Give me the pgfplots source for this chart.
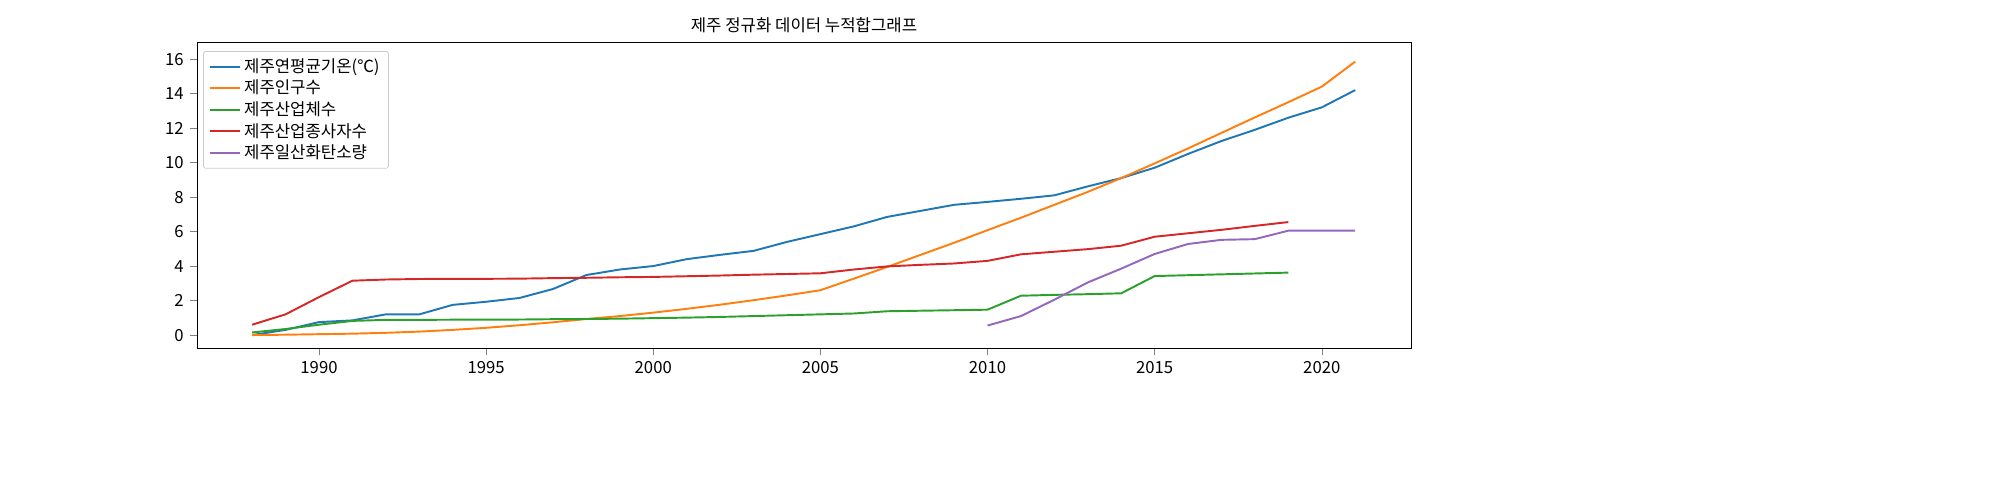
\documentclass[border=0pt]{standalone}
\usepackage{pgfplots}
\pgfplotsset{compat=1.18}
\usepackage{fontspec}
\setmainfont{Noto Sans CJK KR}
\begin{document}
\fontsize{9.5}{11}\selectfont
\begin{tikzpicture}
\begin{axis}[at={(3.94cm,3.04cm)},anchor=south west,scale only axis,
width=24.28cm,height=6.12cm,
xmin=1986.35,xmax=2022.67,ymin=-0.75,ymax=16.99,
xtick={1990,1995,...,2020},ytick={0,2,...,16},
/pgf/number format/assume math mode=true,
xticklabel style={/pgf/number format/1000 sep={}},
tick align=outside,tick pos=lower,
title={제주 정규화 데이터 누적합그래프},title style={yshift=-4pt},
legend style={at={(0.005,0.97)},anchor=north west,draw=black!20,rounded corners=1pt,font=\fontsize{9.5}{11}\selectfont,row sep=-1pt},
legend cell align=left,
every axis plot/.append style={line width=1.1pt}]
\addplot[color={rgb,255:red,31;green,119;blue,180}] coordinates {(1988,0)(1989,0.3)(1990,0.75)(1991,0.85)(1992,1.2)(1993,1.2)(1994,1.75)(1995,1.93)(1996,2.15)(1997,2.67)(1998,3.48)(1999,3.8)(2000,4.0)(2001,4.4)(2002,4.65)(2003,4.88)(2004,5.4)(2005,5.85)(2006,6.3)(2007,6.85)(2008,7.2)(2009,7.55)(2010,7.72)(2011,7.9)(2012,8.1)(2013,8.62)(2014,9.1)(2015,9.7)(2016,10.5)(2017,11.25)(2018,11.9)(2019,12.6)(2020,13.2)(2021,14.2)};
\addlegendentry{제주연평균기온(℃)}
\addplot[color={rgb,255:red,255;green,127;blue,14}] coordinates {(1988,0)(1989,0.02)(1990,0.05)(1991,0.08)(1992,0.13)(1993,0.2)(1994,0.3)(1995,0.42)(1996,0.57)(1997,0.74)(1998,0.93)(1999,1.1)(2000,1.3)(2001,1.52)(2002,1.76)(2003,2.02)(2004,2.3)(2005,2.6)(2006,3.27)(2007,3.95)(2008,4.65)(2009,5.35)(2010,6.08)(2011,6.8)(2012,7.55)(2013,8.3)(2014,9.1)(2015,9.95)(2016,10.82)(2017,11.72)(2018,12.62)(2019,13.5)(2020,14.4)(2021,15.85)};
\addlegendentry{제주인구수}
\addplot[color={rgb,255:red,44;green,160;blue,44}] coordinates {(1988,0.15)(1989,0.35)(1990,0.6)(1991,0.82)(1992,0.88)(1993,0.88)(1994,0.89)(1995,0.89)(1996,0.9)(1997,0.92)(1998,0.93)(1999,0.95)(2000,0.98)(2001,1.01)(2002,1.05)(2003,1.1)(2004,1.15)(2005,1.2)(2006,1.25)(2007,1.38)(2008,1.41)(2009,1.44)(2010,1.47)(2011,2.28)(2012,2.33)(2013,2.37)(2014,2.42)(2015,3.42)(2016,3.47)(2017,3.52)(2018,3.57)(2019,3.62)};
\addlegendentry{제주산업체수}
\addplot[color={rgb,255:red,214;green,39;blue,40}] coordinates {(1988,0.6)(1989,1.2)(1990,2.2)(1991,3.15)(1992,3.22)(1993,3.25)(1994,3.26)(1995,3.26)(1996,3.27)(1997,3.3)(1998,3.32)(1999,3.35)(2000,3.37)(2001,3.41)(2002,3.45)(2003,3.5)(2004,3.54)(2005,3.58)(2006,3.8)(2007,3.98)(2008,4.07)(2009,4.15)(2010,4.3)(2011,4.68)(2012,4.83)(2013,4.98)(2014,5.18)(2015,5.7)(2016,5.9)(2017,6.1)(2018,6.33)(2019,6.55)};
\addlegendentry{제주산업종사자수}
\addplot[color={rgb,255:red,148;green,103;blue,189}] coordinates {(2010,0.55)(2011,1.1)(2012,2.05)(2013,3.05)(2014,3.85)(2015,4.7)(2016,5.28)(2017,5.52)(2018,5.56)(2019,6.05)(2020,6.05)(2021,6.05)};
\addlegendentry{제주일산화탄소량}
\end{axis}
\path (0,0) rectangle (40cm,10cm);
\end{tikzpicture}
\end{document}
